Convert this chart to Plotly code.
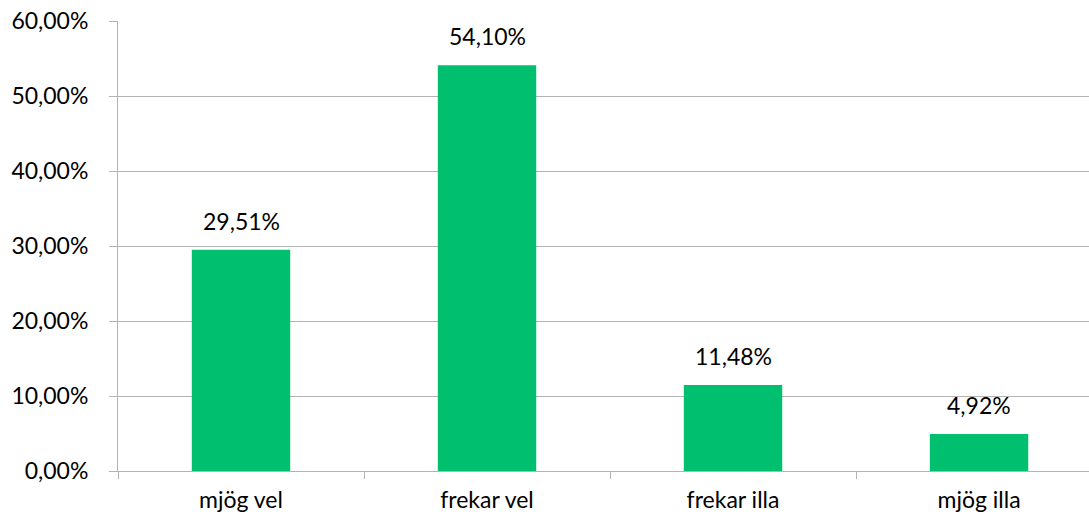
import plotly.graph_objects as go

categories = ["mjög vel", "frekar vel", "frekar illa", "mjög illa"]
values = [29.51, 54.10, 11.48, 4.92]
value_labels = ["29,51%", "54,10%", "11,48%", "4,92%"]
y_ticks = [0, 10, 20, 30, 40, 50, 60]
y_tick_labels = ["0,00%", "10,00%", "20,00%", "30,00%", "40,00%", "50,00%", "60,00%"]

GREEN = "#00BF6F"
GRID = "#b3b3b3"
FONT = "Lato, Open Sans, sans-serif"
FS = 23

fig = go.Figure()
fig.add_trace(go.Bar(
    x=categories, y=values, width=0.4,
    marker=dict(color=GREEN, line=dict(width=0)),
    hoverinfo="skip",
))

for c, v, t in zip(categories, values, value_labels):
    fig.add_annotation(x=c, y=v, text=t, showarrow=False, yanchor="bottom",
                       yshift=13, font=dict(family=FONT, size=FS, color="#000000"))

fig.update_layout(
    width=1089, height=521,
    margin=dict(l=118, r=0, t=21, b=50),
    paper_bgcolor="white", plot_bgcolor="white",
    showlegend=False,
    font=dict(family=FONT, size=FS, color="#000000"),
    bargap=0.6,
)
fig.update_xaxes(
    type="category",
    range=[-0.5, 3.447],
    automargin=False,
    showline=True, linecolor=GRID, linewidth=1,
    ticks="outside", tickson="boundaries", ticklen=7, tickcolor=GRID,
    showgrid=False,
    ticklabelstandoff=8,
    tickfont=dict(family=FONT, size=FS, color="#000000"),
)
fig.update_yaxes(
    range=[0, 60],
    automargin=False,
    tickvals=y_ticks, ticktext=y_tick_labels,
    showline=True, linecolor=GRID, linewidth=1,
    ticks="outside", ticklen=8, tickcolor=GRID,
    showgrid=True, gridcolor=GRID, gridwidth=1,
    zeroline=False,
    ticklabelstandoff=16,
    tickfont=dict(family=FONT, size=FS, color="#000000"),
)

fig.write_html(
    "out.html",
    config={"displayModeBar": False},
    post_script="document.body.style.margin='0';document.body.style.overflow='hidden';",
)
